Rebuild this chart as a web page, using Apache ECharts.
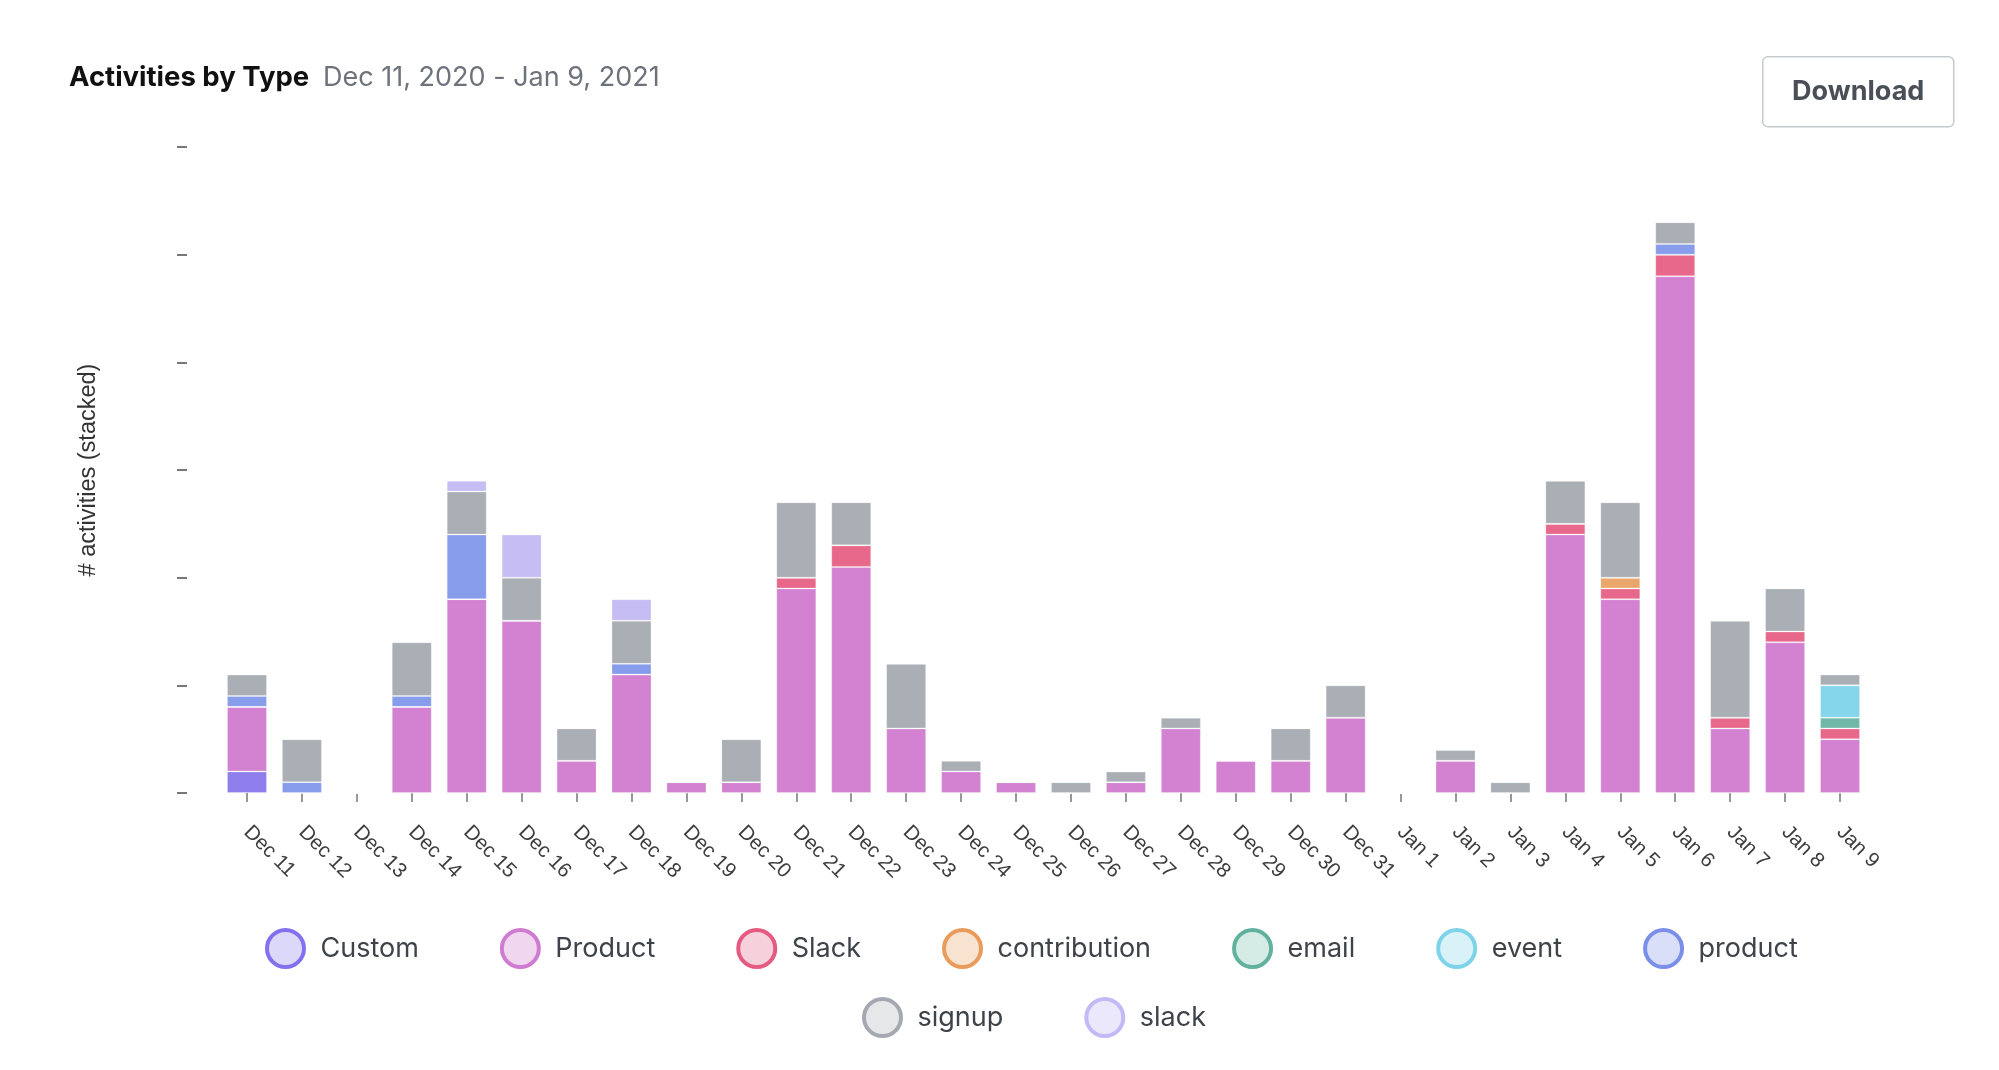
<!DOCTYPE html>
<html>
<head>
<meta charset="utf-8">
<script src="https://cdn.jsdelivr.net/npm/echarts@6/dist/echarts.min.js"></script>
<style>
html,body{margin:0;padding:0;background:#fff;overflow:hidden;}
#chart{width:1999px;height:1070px;}
</style>
</head>
<body>
<div id="chart"></div>
<script>
const categories = ['Dec 11','Dec 12','Dec 13','Dec 14','Dec 15','Dec 16','Dec 17','Dec 18','Dec 19','Dec 20','Dec 21','Dec 22','Dec 23','Dec 24','Dec 25','Dec 26','Dec 27','Dec 28','Dec 29','Dec 30','Dec 31','Jan 1','Jan 2','Jan 3','Jan 4','Jan 5','Jan 6','Jan 7','Jan 8','Jan 9'];

const customVals       = [2,0,0,0,0,0,0,0,0,0,0,0,0,0,0,0,0,0,0,0,0,0,0,0,0,0,0,0,0,0];
const productCapVals   = [6,0,0,8,18,16,3,11,1,1,19,21,6,2,1,0,1,6,3,3,7,0,3,0,24,18,48,6,14,5];
const slackCapVals     = [0,0,0,0,0,0,0,0,0,0,1,2,0,0,0,0,0,0,0,0,0,0,0,0,1,1,2,1,1,1];
const contributionVals = [0,0,0,0,0,0,0,0,0,0,0,0,0,0,0,0,0,0,0,0,0,0,0,0,0,1,0,0,0,0];
const emailVals        = [0,0,0,0,0,0,0,0,0,0,0,0,0,0,0,0,0,0,0,0,0,0,0,0,0,0,0,0,0,1];
const eventVals        = [0,0,0,0,0,0,0,0,0,0,0,0,0,0,0,0,0,0,0,0,0,0,0,0,0,0,0,0,0,3];
const productVals      = [1,1,0,1,6,0,0,1,0,0,0,0,0,0,0,0,0,0,0,0,0,0,0,0,0,0,1,0,0,0];
const signupVals       = [2,4,0,5,4,4,3,4,0,4,7,4,6,1,0,1,1,1,0,3,3,0,1,1,4,7,2,9,4,1];
const slackVals        = [0,0,0,0,1,4,0,2,0,0,0,0,0,0,0,0,0,0,0,0,0,0,0,0,0,0,0,0,0,0];

const seriesNames = ['Custom','Product','Slack','contribution','email','event','product','signup','slack'];
const seriesValues = [customVals, productCapVals, slackCapVals, contributionVals, emailVals, eventVals, productVals, signupVals, slackVals];
const colors = ['#8e7fed','#d282d0','#e7688a','#eaa66b','#70b8a8','#85d6ea','#879cea','#aaaeb5','#c6bdf4'];
const legendBorder = ['#8270ee','#cf7bd0','#e55a80','#e99b5c','#62b09e','#7fd3e8','#7b8fe8','#a4a8b0','#c4b9f7'];
const legendFill = ['#dcd8f9','#f1d6f0','#f6d0da','#f8e2d0','#d5ebe5','#d8f2f8','#d9dff8','#e6e7e9','#ebe8fc'];

const yTickMax = 60, yTickStep = 10;

const chart = echarts.init(document.getElementById('chart'), null, {renderer:'canvas'});

const legendItem = (i) => ({
  name: seriesNames[i],
  itemStyle: {color: legendFill[i], borderColor: legendBorder[i], borderWidth: 4}
});

const legendCommon = {
  orient: 'horizontal',
  icon: 'circle',
  itemWidth: 60,
  itemHeight: 37,
  itemGap: 81,
  padding: 0,
  selectedMode: false,
  textStyle: {fontFamily: 'Inter', fontSize: 27, color: '#3e4249'}
};

const option = {
  animation: false,
  title: [
    {text: 'Activities by Type', left: 69, top: 64, padding: 0,
     textStyle: {fontFamily: 'Inter', fontWeight: 'bold', fontSize: 27.5, color: '#111'}},
    {text: 'Dec 11, 2020 - Jan 9, 2021', left: 323, top: 64, padding: 0,
     textStyle: {fontFamily: 'Inter', fontWeight: 'normal', fontSize: 27, color: '#6e737b'}}
  ],
  legend: [
    Object.assign({}, legendCommon, {left: 265, top: 928, data: [0,1,2,3,4,5,6].map(legendItem)}),
    Object.assign({}, legendCommon, {left: 862, top: 997, data: [7,8].map(legendItem)})
  ],
  grid: {left: 219.5, right: 131.5, top: 147, bottom: 277, containLabel: false, outerBoundsMode: 'none'},
  xAxis: {
    type: 'category',
    data: categories,
    axisLine: {show: false},
    axisTick: {show: true, alignWithLabel: true, length: 9, lineStyle: {color: '#777', width: 1.5}},
    axisLabel: {rotate: -45, margin: 36, fontFamily: 'Liberation Sans', fontSize: 20.5, color: '#3d3d3d', interval: 0}
  },
  yAxis: {
    type: 'value',
    min: 0, max: yTickMax, interval: yTickStep,
    offset: 32.5,
    name: '# activities (stacked)',
    nameLocation: 'middle',
    nameGap: 86,
    nameTextStyle: {fontFamily: 'Liberation Sans', fontSize: 23.5, color: '#333'},
    axisLine: {show: false},
    axisTick: {show: true, length: 10, lineStyle: {color: '#777', width: 2}},
    axisLabel: {show: false},
    splitLine: {show: false}
  },
  series: seriesNames.map((n, i) => ({
    name: n,
    type: 'bar',
    stack: 'total',
    barWidth: 40,
    data: seriesValues[i],
    itemStyle: {color: colors[i], borderColor: 'rgba(255,255,255,0.25)', borderWidth: 1}
  })),
  graphic: [{
    type: 'group',
    left: 1762, top: 56,
    children: [
      {type: 'rect', shape: {x: 0, y: 0, width: 191, height: 70, r: 5},
       style: {fill: '#fff', stroke: '#c6cacf', lineWidth: 1.5}},
      {type: 'text', x: 95.5, y: 35,
       style: {text: 'Download', fontFamily: 'Inter', fontWeight: 'bold', fontSize: 27, fill: '#4a4f57', align: 'center', verticalAlign: 'middle'}}
    ]
  }]
};

chart.setOption(option);
</script>
</body>
</html>
